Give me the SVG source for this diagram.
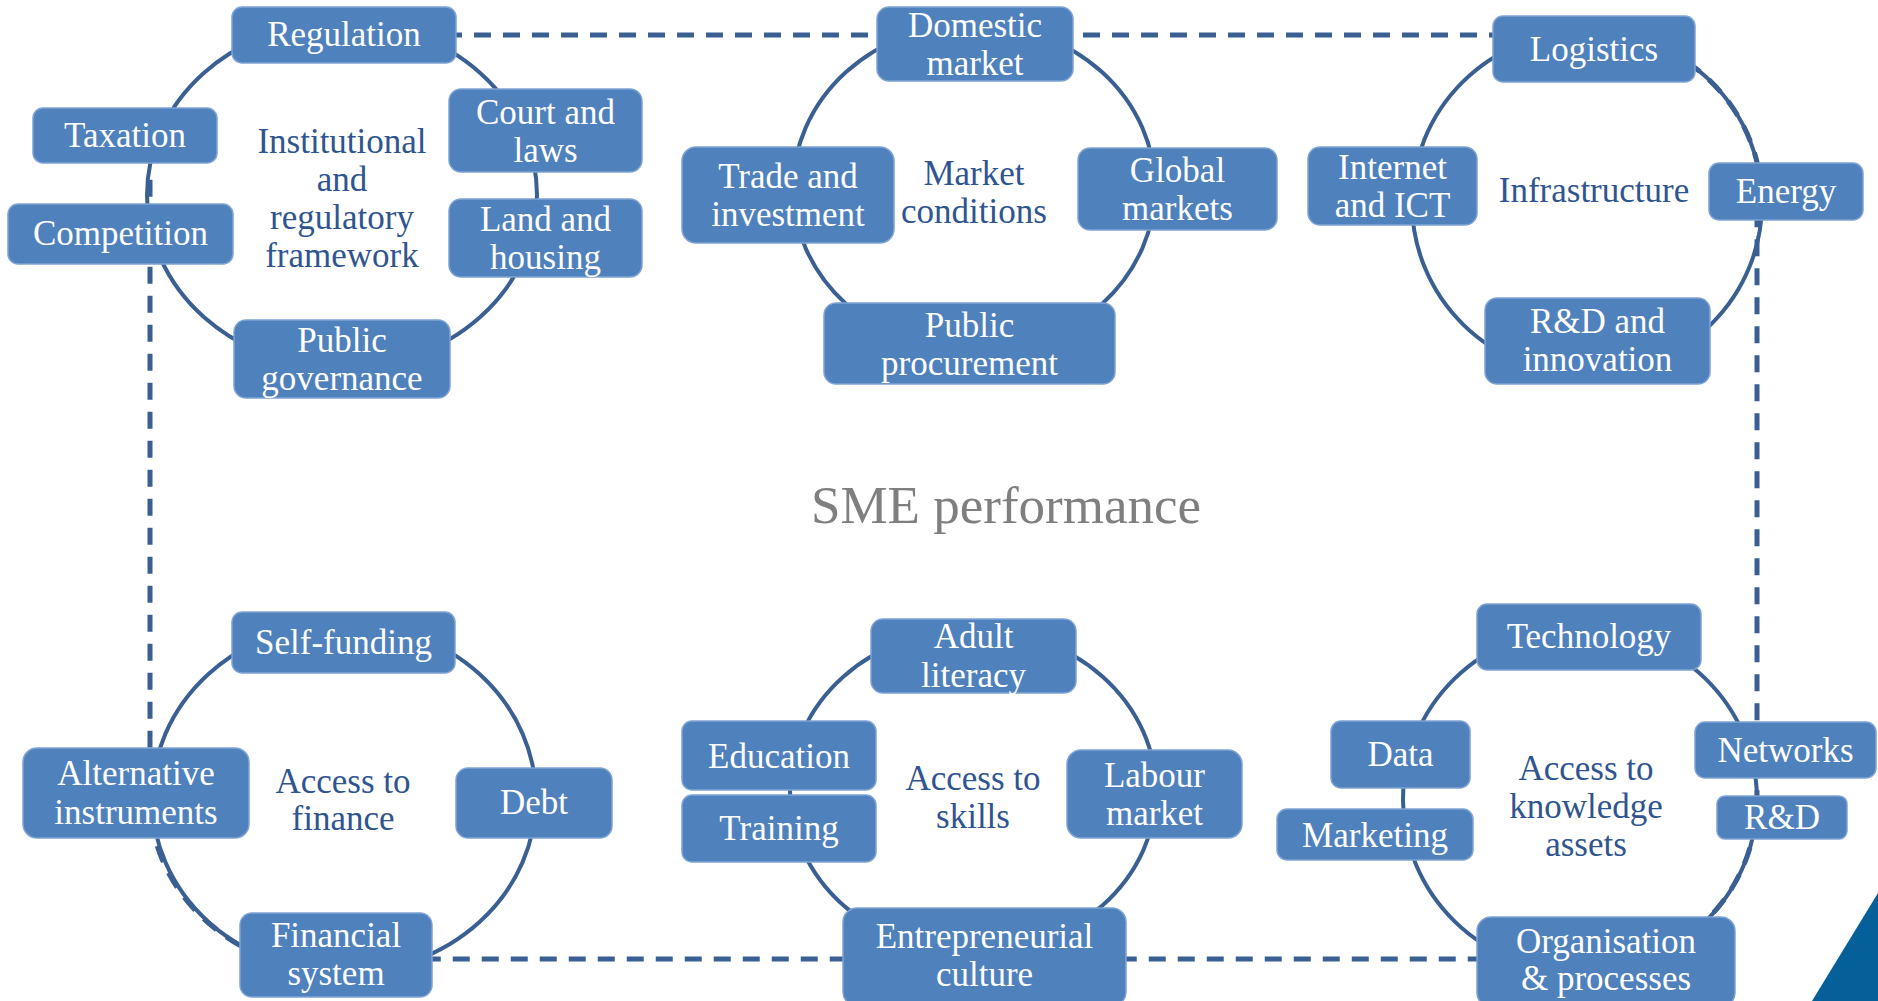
<svg xmlns="http://www.w3.org/2000/svg" width="1878" height="1001" viewBox="0 0 1878 1001">
<style>
.bg{fill:#ffffff}
.ring{fill:none;stroke:#3A5F92;stroke-width:4}
.dash{fill:none;stroke:#3A5F92;stroke-width:5;stroke-dasharray:17 12}
.box rect{fill:#4F81BD;stroke:#7FA3D3;stroke-width:1.5}
.box text{fill:#ffffff;font-family:"Liberation Serif","DejaVu Serif",serif;font-size:35px;text-anchor:middle}
.lbl{fill:#2F5590;font-family:"Liberation Serif","DejaVu Serif",serif;font-size:35px;text-anchor:middle}
.title{fill:#7F7F7F;font-family:"Liberation Serif","DejaVu Serif",serif;font-size:53px;text-anchor:middle}
</style>
<rect class="bg" x="0" y="0" width="1878" height="1001"/>
<g id="connectors">
<path class="dash" d="M 300 35 H 1624 A 175 172 0 0 1 1757 162 V 800 A 177 172 0 0 1 1647 959 H 269 A 192 175 0 0 1 153 830 L 150 800 V 168"/>
<ellipse class="ring" cx="342" cy="195" rx="195" ry="173"/>
<ellipse class="ring" cx="974" cy="188" rx="181" ry="164"/>
<ellipse class="ring" cx="1587" cy="203" rx="175" ry="172"/>
<ellipse class="ring" cx="344" cy="798" rx="192" ry="175"/>
<ellipse class="ring" cx="973" cy="791" rx="183" ry="162"/>
<ellipse class="ring" cx="1580" cy="800" rx="177" ry="172"/>
</g>
<g id="center-title"><text class="title" x="1006" y="523">SME performance</text></g>
<g id="institutional">
<text class="lbl" x="342" y="153">Institutional</text>
<text class="lbl" x="342" y="191">and</text>
<text class="lbl" x="342" y="229">regulatory</text>
<text class="lbl" x="342" y="267">framework</text>
</g>
<g id="market-conditions">
<text class="lbl" x="974" y="185">Market</text>
<text class="lbl" x="974" y="223">conditions</text>
</g>
<g id="infrastructure"><text class="lbl" x="1594" y="202">Infrastructure</text></g>
<g id="access-finance">
<text class="lbl" x="343" y="793">Access to</text>
<text class="lbl" x="343" y="830">finance</text>
</g>
<g id="access-skills">
<text class="lbl" x="973" y="790">Access to</text>
<text class="lbl" x="973" y="828">skills</text>
</g>
<g id="access-knowledge">
<text class="lbl" x="1586" y="780">Access to</text>
<text class="lbl" x="1586" y="818">knowledge</text>
<text class="lbl" x="1586" y="856">assets</text>
</g>
<g id="regulation" class="box"><rect x="232" y="7" width="224" height="56" rx="10"/><text x="344" y="46">Regulation</text></g>
<g id="taxation" class="box"><rect x="33" y="108" width="184" height="55" rx="10"/><text x="125" y="147">Taxation</text></g>
<g id="competition" class="box"><rect x="8" y="204" width="225" height="60" rx="10"/><text x="120.5" y="245">Competition</text></g>
<g id="court-laws" class="box"><rect x="449" y="89" width="193" height="83" rx="12"/><text x="545.5" y="124">Court and</text><text x="545.5" y="162">laws</text></g>
<g id="land-housing" class="box"><rect x="449" y="199" width="193" height="78" rx="12"/><text x="545.5" y="231">Land and</text><text x="545.5" y="269">housing</text></g>
<g id="public-governance" class="box"><rect x="234" y="320" width="216" height="78" rx="12"/><text x="342" y="352">Public</text><text x="342" y="390">governance</text></g>
<g id="domestic-market" class="box"><rect x="877" y="7" width="196" height="74" rx="12"/><text x="975" y="37">Domestic</text><text x="975" y="75">market</text></g>
<g id="trade-investment" class="box"><rect x="682" y="147" width="212" height="96" rx="14"/><text x="788" y="188">Trade and</text><text x="788" y="226">investment</text></g>
<g id="global-markets" class="box"><rect x="1078" y="148" width="199" height="82" rx="12"/><text x="1177.5" y="182">Global</text><text x="1177.5" y="220">markets</text></g>
<g id="public-procurement" class="box"><rect x="824" y="303" width="291" height="81" rx="12"/><text x="969.5" y="337">Public</text><text x="969.5" y="375">procurement</text></g>
<g id="logistics" class="box"><rect x="1493" y="16" width="202" height="66" rx="10"/><text x="1594" y="61">Logistics</text></g>
<g id="internet-ict" class="box"><rect x="1308" y="147" width="169" height="78" rx="12"/><text x="1392.5" y="179">Internet</text><text x="1392.5" y="217">and ICT</text></g>
<g id="energy" class="box"><rect x="1709" y="163" width="154" height="57" rx="10"/><text x="1786" y="203">Energy</text></g>
<g id="rd-innovation" class="box"><rect x="1485" y="298" width="225" height="86" rx="12"/><text x="1597.5" y="333">R&amp;D and</text><text x="1597.5" y="371">innovation</text></g>
<g id="self-funding" class="box"><rect x="232" y="612" width="223" height="61" rx="10"/><text x="343.5" y="654">Self-funding</text></g>
<g id="alternative-instruments" class="box"><rect x="23" y="748" width="226" height="90" rx="14"/><text x="136" y="785">Alternative</text><text x="136" y="824">instruments</text></g>
<g id="debt" class="box"><rect x="456" y="768" width="156" height="70" rx="12"/><text x="534" y="814">Debt</text></g>
<g id="financial-system" class="box"><rect x="240" y="913" width="192" height="84" rx="12"/><text x="336" y="947">Financial</text><text x="336" y="985">system</text></g>
<g id="adult-literacy" class="box"><rect x="871" y="619" width="205" height="74" rx="12"/><text x="973.5" y="648">Adult</text><text x="973.5" y="687">literacy</text></g>
<g id="education" class="box"><rect x="682" y="721" width="194" height="69" rx="10"/><text x="779" y="768">Education</text></g>
<g id="training" class="box"><rect x="682" y="795" width="194" height="67" rx="10"/><text x="779" y="840">Training</text></g>
<g id="labour-market" class="box"><rect x="1067" y="750" width="175" height="88" rx="14"/><text x="1154.5" y="787">Labour</text><text x="1154.5" y="825">market</text></g>
<g id="entrepreneurial-culture" class="box"><rect x="843" y="908" width="283" height="98" rx="14"/><text x="984.5" y="948">Entrepreneurial</text><text x="984.5" y="986">culture</text></g>
<g id="technology" class="box"><rect x="1477" y="604" width="224" height="66" rx="10"/><text x="1589" y="648">Technology</text></g>
<g id="data" class="box"><rect x="1331" y="721" width="139" height="67" rx="10"/><text x="1400.5" y="766">Data</text></g>
<g id="marketing" class="box"><rect x="1277" y="809" width="196" height="51" rx="10"/><text x="1375" y="847">Marketing</text></g>
<g id="networks" class="box"><rect x="1695" y="722" width="181" height="56" rx="10"/><text x="1785.5" y="762">Networks</text></g>
<g id="rd" class="box"><rect x="1717" y="796" width="130" height="43" rx="8"/><text x="1782" y="829">R&amp;D</text></g>
<g id="organisation-processes" class="box"><rect x="1477" y="917" width="258" height="90" rx="14"/><text x="1606" y="953">Organisation</text><text x="1606" y="990">&amp; processes</text></g>
<polygon points="1878,893 1812,1001 1878,1001" fill="#05609A"/>
</svg>
